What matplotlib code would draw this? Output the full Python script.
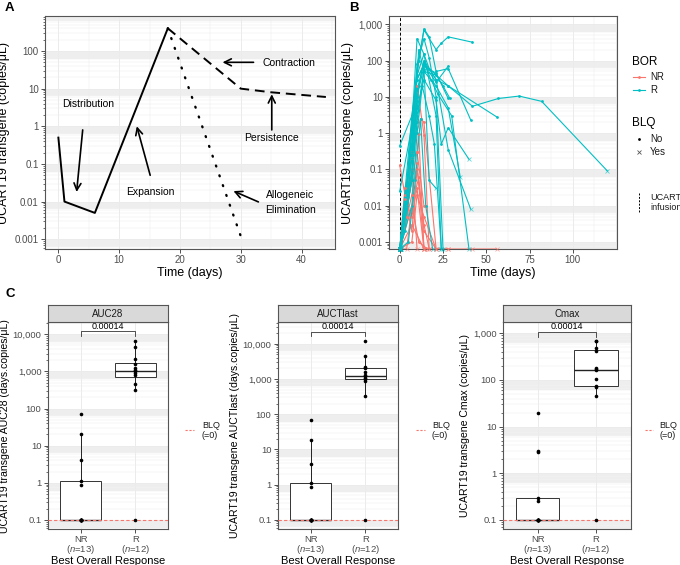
import numpy as np
import matplotlib.pyplot as plt
from matplotlib import cbook
from matplotlib.ticker import FixedLocator, LogLocator, NullFormatter

plt.rcParams['font.family'] = ['Liberation Sans', 'DejaVu Sans']
plt.rcParams['mathtext.fontset'] = 'custom'
plt.rcParams['mathtext.rm'] = 'Liberation Sans'
plt.rcParams['mathtext.it'] = 'Liberation Sans:italic'

W, H = 680, 565
RED = '#F8766D'
TEAL = '#00BFC4'
GRID = '#EBEBEB'

# ---- panel A : schematic kinetics
a_main_x = [0, 1, 6, 18]
a_main_y = [0.5, 0.01, 0.005, 400]
a_pers_x = [18, 30, 35, 44]
a_pers_y = [400, 10, 8, 6]
a_elim_x = [18, 30]
a_elim_y = [400, 0.0012]
a_labels = ['Distribution', 'Expansion', 'Contraction', 'Persistence', 'Allogeneic\nElimination']
a_label_xy = [(4.9, 3.9), (15.1, 0.018), (38.0, 49), (35.1, 0.48), (38.1, 0.0094)]
a_arrow_from = [(4.0, 0.8), (15.1, 0.05), (32.1, 50), (35.1, 0.8), (32.9, 0.0098)]
a_arrow_to = [(3.0, 0.018), (12.9, 1.0), (27.0, 50), (35.1, 7.1), (28.8, 0.019)]

# ---- panel B : individual profiles (0 = BLQ, drawn at bottom)
r_days = [
    [0, 7, 10, 14, 21, 24, 28, 42],
    [1, 4, 7, 10, 14, 21, 28, 42, 57, 69, 82, 120],
    [0, 7, 10, 14, 17, 21, 28, 56],
    [1, 7, 11, 14, 17, 21, 28, 41],
    [0, 7, 10, 14, 21, 24, 28, 40],
    [0, 7, 11, 14, 21, 28, 41],
    [0, 7, 10, 14, 21, 28, 35],
    [0, 7, 10, 14, 17, 21, 25],
    [0, 4, 7, 10, 14, 21, 24],
    [0, 7, 10, 14, 18, 22, 30, 40],
    [0, 7, 10, 14, 17, 21],
    [0, 3, 7, 10, 14, 21, 28],
    [0, 7, 10, 14, 21, 28],
    [0, 7, 11, 14, 21, 25, 29],
    [0, 7, 10, 13, 17, 20, 24],
    [0, 5, 9, 12, 15, 19],
]
r_conc = [
    [0.45, 3, 50, 700, 200, 300, 450, 320],
    [0, 0.02, 1.2, 30, 80, 40, 20, 5.5, 9, 10.5, 7.5, 0.09],
    [0.025, 1.5, 400, 150, 60, 30, 20, 2.8],
    [0, 2, 100, 750, 450, 50, 60, 2.3],
    [0, 0.5, 5, 30, 8, 0.5, 1.4, 0.19],
    [0, 0.1, 20, 100, 30, 0.35, 0.008],
    [0, 0.05, 3, 50, 20, 5, 0.06],
    [0, 1, 80, 400, 120, 10, 0],
    [0, 0.01, 0.3, 40, 150, 3, 0],
    [0, 0.2, 15, 90, 30, 12, 3, 0],
    [0, 0.05, 2, 60, 0.05, 0.03],
    [0, 0.002, 0.08, 10, 70, 45, 9],
    [0, 3, 30, 80, 25, 70],
    [0, 0.5, 200, 50, 40, 20, 9],
    [0, 0.01, 1, 20, 3, 0.5, 0],
    [0, 0.001, 0.05, 2.5, 0.01, 0],
]
r_last_blq = [0, 1, 0, 0, 1, 1, 1, 0, 0, 0, 1, 0, 0, 0, 0, 0]

n_days = [
    [0, 3, 7, 10, 14, 17],
    [0, 4, 7, 12, 14, 21],
    [0, 7, 10, 11, 14],
    [0, 3, 7, 10, 14],
    [0, 4, 7, 10, 14, 17],
    [0, 7, 10, 14],
    [0, 4, 7, 11, 14, 21],
    [0, 3, 7, 10, 14],
    [0, 7, 10, 14, 21, 28],
    [0, 7, 11, 16],
    [0, 4, 7, 10],
    [0, 7, 14, 28, 42, 56],
]
n_conc = [
    [0.13, 0.02, 0.2, 20, 0.9, 0],
    [0, 0.005, 0.3, 2.5, 2, 0],
    [0, 0.05, 0.3, 0.95, 0],
    [0, 0.03, 0.2, 0.3, 0.01],
    [0, 0.01, 0.002, 0.1, 0.003, 0],
    [0, 0.02, 0.15, 0],
    [0, 0, 0.01, 0.06, 0.002, 0],
    [0, 0.015, 0.005, 0.03, 0],
    [0, 0.001, 0.02, 0.005, 0, 0],
    [0, 0.01, 0.001, 0],
    [0, 0.005, 0.1, 0],
    [0, 0.003, 0, 0, 0, 0],
]

# ---- panel C : exposure metrics by response (BLQ set to 0.1)
facets = ['AUC28', 'AUCTlast', 'Cmax']
c_ylabels = ['UCART19 transgene AUC28 (days.copies/μL)',
             'UCART19 transgene AUCTlast (days.copies/μL)',
             'UCART19 transgene Cmax (copies/μL)']
nr_vals = [
    [70, 20, 4, 1.1, 0.9, 0.1, 0.1, 0.1, 0.1, 0.1, 0.1, 0.1, 0.1],
    [70, 19, 3.8, 1.1, 0.85, 0.1, 0.1, 0.1, 0.1, 0.1, 0.1, 0.1, 0.1],
    [20, 3, 2.8, 0.3, 0.25, 0.1, 0.1, 0.1, 0.1, 0.1, 0.1, 0.1, 0.1],
]
r_vals = [
    [6500, 4500, 2200, 1600, 1200, 1100, 1000, 900, 800, 450, 320, 0.1],
    [12000, 4500, 2200, 2000, 1600, 1300, 1200, 1100, 1000, 900, 320, 0.1],
    [700, 680, 480, 420, 180, 170, 160, 105, 75, 70, 45, 0.1],
]
groups = ['NR', 'R']
group_n = [13, 12]
p_value = '0.00014'
blq_level = 0.1

fig = plt.figure(figsize=(W / 100, H / 100), dpi=100)


def px_axes(l, t, r, b):
    return fig.add_axes([l / W, 1 - b / H, (r - l) / W, (b - t) / H])


def log_style(ax, ticks, labels, ylim, lsize=7):
    ax.set_yscale('log')
    ax.set_ylim(*ylim)
    lo, hi = int(np.floor(np.log10(ylim[0]))), int(np.ceil(np.log10(ylim[1])))
    for k in range(lo, hi + 1):
        base = 10.0 ** k
        ax.axhspan(base * 0.62, base, color='#F0F0F0', lw=0, zorder=0)
        for m in range(1, 10):
            ax.axhline(m * base, color=GRID, lw=0.7 if m == 1 else 0.35, zorder=0.5)
    ax.yaxis.set_major_locator(FixedLocator(ticks))
    ax.set_yticklabels(labels)
    ax.yaxis.set_minor_locator(LogLocator(subs=np.arange(2, 10)))
    ax.yaxis.set_minor_formatter(NullFormatter())
    ax.tick_params(axis='both', which='major', length=3, width=0.6, color='#333333',
                   labelcolor='#4D4D4D', labelsize=lsize, pad=1.5)
    ax.tick_params(axis='y', which='minor', length=1.8, width=0.5, color='#333333')
    for s in ax.spines.values():
        s.set_color('#555555')
        s.set_linewidth(0.8)


# ===== A
ax = px_axes(45, 16, 335, 249)
ax.set_xlim(-2.2, 45.5)
log_style(ax, [0.001, 0.01, 0.1, 1, 10, 100], ['0.001', '0.01', '0.1', '1', '10', '100'],
          (0.00055, 850))
ax.set_xticks([0, 10, 20, 30, 40])
for x in range(0, 46, 5):
    ax.axvline(x, color=GRID, lw=0.7 if x % 10 == 0 else 0.35, zorder=0.5)
ax.plot(a_main_x, a_main_y, color='black', lw=1.4, zorder=3)
ax.plot(a_pers_x, a_pers_y, color='black', lw=1.4, ls=(0, (5, 3)), zorder=3)
ax.plot(a_elim_x, a_elim_y, color='black', lw=1.7, ls=(0, (0.4, 4)),
        dash_capstyle='round', zorder=3)
for lab, (tx, ty) in zip(a_labels, a_label_xy):
    ax.text(tx, ty, lab, ha='center', va='center', fontsize=7.5, linespacing=1.6, zorder=4)
for p0, p1 in zip(a_arrow_from, a_arrow_to):
    ax.annotate('', xy=p1, xytext=p0,
                arrowprops=dict(arrowstyle='->,head_length=0.5,head_width=0.25',
                                lw=1.2, color='black', shrinkA=0, shrinkB=0), zorder=4)
ax.set_xlabel('Time (days)', fontsize=9, labelpad=1.5)
ax.set_ylabel('UCART19 transgene (copies/μL)', fontsize=9, labelpad=3)

# ===== B
B_LO, B_HI = 0.00064, 1690
ax = px_axes(389, 16, 617, 249)
ax.set_xlim(-6.2, 125.5)
log_style(ax, [0.001, 0.01, 0.1, 1, 10, 100, 1000],
          ['0.001', '0.01', '0.1', '1', '10', '100', '1,000'], (B_LO, B_HI))
ax.set_xticks([0, 25, 50, 75, 100])
for x in np.arange(0, 126, 12.5):
    ax.axvline(x, color=GRID, lw=0.7 if x % 25 == 0 else 0.35, zorder=0.5)
ax.axvline(0, color='black', lw=0.7, ls=(0, (3, 2)), zorder=2)


def draw_profiles(days, conc, last_blq, color):
    for i, (d, c) in enumerate(zip(days, conc)):
        d = np.array(d, float)
        c = np.array(c, float)
        blq = c == 0
        if last_blq is not None and last_blq[i]:
            blq[-1] = True
        y = np.where(c == 0, B_LO, c)
        ax.plot(d, y, color=color, lw=0.8, zorder=3)
        ax.plot(d[~blq], y[~blq], 'o', color=color, ms=2, mew=0, zorder=4)
        ax.plot(d[blq], y[blq], 'x', color=color, ms=2.5, mew=0.6, alpha=0.6,
                zorder=4, clip_on=False)


draw_profiles(n_days, n_conc, None, RED)
draw_profiles(r_days, r_conc, r_last_blq, TEAL)
ax.set_xlabel('Time (days)', fontsize=9, labelpad=1.5)
ax.set_ylabel('UCART19 transgene (copies/μL)', fontsize=9, labelpad=3)

# ===== C
c_boxes = [(47.7, 168.3), (277.7, 398.3), (502.7, 630.7)]
c_ylims = [(0.056, 21000), (0.054, 41000), (0.063, 1720)]
c_ticks = [[0.1, 1, 10, 100, 1000, 10000], [0.1, 1, 10, 100, 1000, 10000],
           [0.1, 1, 10, 100, 1000]]
c_bracket = [(8800, 12500, 16000), (16900, 22300, 31000), (850, 1080, 1390)]
tick_text = {0.1: '0.1', 1: '1', 10: '10', 100: '100', 1000: '1,000', 10000: '10,000'}

for i in range(3):
    l, r = c_boxes[i]
    ax = px_axes(l, 322.3, r, 529.3)
    ax.set_xlim(0.4, 2.6)
    log_style(ax, c_ticks[i], [tick_text[t] for t in c_ticks[i]], c_ylims[i], lsize=6.8)
    for x in [1, 2]:
        ax.axvline(x, color=GRID, lw=0.7, zorder=0.5)
    for j, vals in enumerate([nr_vals[i], r_vals[i]]):
        st = cbook.boxplot_stats(np.log10(vals), whis=1.5)[0]
        for key in ['med', 'q1', 'q3', 'whislo', 'whishi', 'mean', 'cilo', 'cihi']:
            st[key] = 10 ** st[key]
        st['fliers'] = []
        ax.bxp([st], positions=[j + 1], widths=0.75, showfliers=False, showcaps=False,
               patch_artist=True,
               boxprops=dict(facecolor='white', edgecolor='#333333', lw=0.7),
               medianprops=dict(color='#222222', lw=1.0),
               whiskerprops=dict(color='#222222', lw=0.7), zorder=2)
        ax.plot(np.full(len(vals), j + 1), vals, 'o', color='black', ms=2.6, mew=0, zorder=4)
    ax.axhline(blq_level, color=RED, lw=0.8, ls=(0, (3, 2)), zorder=3)
    lo, hi, tt = c_bracket[i]
    ax.plot([1, 1, 2, 2], [lo, hi, hi, lo], color='#333333', lw=0.6, zorder=3)
    ax.text(1.5, tt, p_value, ha='center', va='center', fontsize=6.5, zorder=4)
    ax.set_xticks([1, 2])
    ax.set_xticklabels([f'{g}\n($\\it{{n}}$={n})' for g, n in zip(groups, group_n)],
                       linespacing=0.95)
    ax.tick_params(axis='x', pad=1)
    ax.set_xlabel('Best Overall Response', fontsize=8, labelpad=0)
    ax.set_ylabel(c_ylabels[i], fontsize=7.6, labelpad=2)
    # strip
    sx = px_axes(l, 305, r, 322.3)
    sx.set_facecolor('#D9D9D9')
    sx.set_xticks([])
    sx.set_yticks([])
    for s in sx.spines.values():
        s.set_color('#555555')
        s.set_linewidth(0.8)
    sx.text(0.5, 0.5, facets[i], ha='center', va='center', fontsize=7,
            color='#1A1A1A', transform=sx.transAxes)

# ===== legends and panel letters (pixel coordinates)
lg = fig.add_axes([0, 0, 1, 1])
lg.set_xlim(0, W)
lg.set_ylim(H, 0)
lg.axis('off')
lg.text(5, 8, 'A', fontsize=9.5, fontweight='bold', va='center')
lg.text(349, 8, 'B', fontsize=9.5, fontweight='bold', va='center')
lg.text(5, 294, 'C', fontsize=9.5, fontweight='bold', va='center')

lg.text(632, 62, 'BOR', fontsize=8.5, va='center')
for yy, col, lab in [(77, RED, 'NR'), (90, TEAL, 'R')]:
    lg.plot([633, 645], [yy, yy], color=col, lw=0.8)
    lg.plot([639], [yy], 'o', color=col, ms=2, mew=0)
    lg.text(650, yy, lab, fontsize=7, va='center', color='#1A1A1A')
lg.text(632, 123, 'BLQ', fontsize=8.5, va='center')
lg.plot([638.5], [139], 'o', color='black', ms=2, mew=0)
lg.text(650, 139, 'No', fontsize=7, va='center', color='#1A1A1A')
lg.plot([638.5], [152], 'x', color='#555555', ms=2.5, mew=0.6)
lg.text(650, 152, 'Yes', fontsize=7, va='center', color='#1A1A1A')
lg.plot([639, 639], [193, 212], color='black', lw=0.7, ls=(0, (2, 1.5)))
lg.text(650, 198, 'UCART', fontsize=6.5, va='center', color='#1A1A1A')
lg.text(650, 207.5, 'infusion', fontsize=6.5, va='center', color='#1A1A1A')

for x0, x1, tx in [(185, 194, 202), (416, 425, 432), (645, 653, 659)]:
    lg.plot([x0, x1], [430, 430], color=RED, lw=0.8, ls=(0, (2, 1.5)))
    lg.text(tx, 425.5, 'BLQ', fontsize=6.5, va='center', color='#1A1A1A')
    lg.text(tx, 435.5, '(=0)', fontsize=6.5, va='center', color='#1A1A1A')

fig.savefig('out.png', dpi=100)
